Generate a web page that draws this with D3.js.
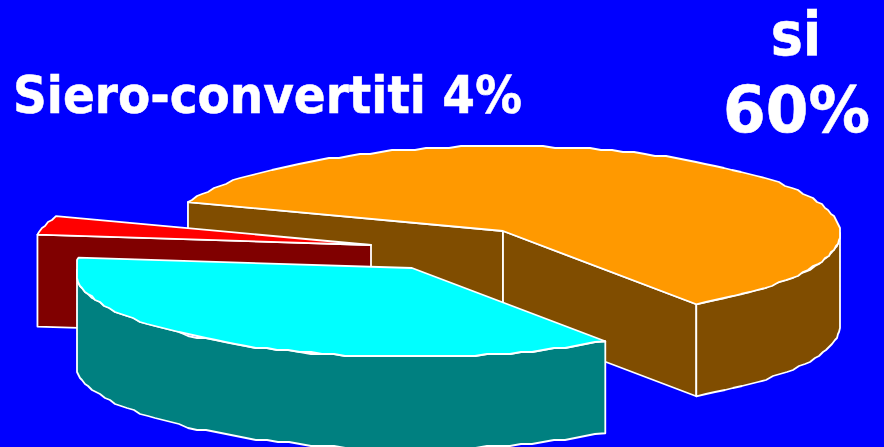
<!DOCTYPE html>
<html>
<head>
<meta charset="utf-8">
<script src="https://cdn.jsdelivr.net/npm/d3@7"></script>
<style>
  html, body { margin: 0; padding: 0; background: #0000ff; }
  svg { display: block; }
  text { font-family: "DejaVu Sans", sans-serif; font-weight: bold; font-stretch: condensed; fill: #fff; stroke: #fff; stroke-width: 0.5; }
</style>
</head>
<body>
<script>
const sliceNames = ["si", "no", "Siero-convertiti"];
const sliceValues = [59.5, 37, 3.5];
const topColors = ["#ff9900", "#00ffff", "#ff0000"];
const wallColors = ["#804d00", "#008080", "#800000"];
// where each slice's tip sits after being pulled out of the pie
const tipX = [503, 412, 371];
const tipY = [231, 268, 245];

const width = 884, height = 447;
const rx = 337, ry = 87, depth = 92;
const leftLimit = 335; // the original's rim is cut flat on the far left
const rimDrop = 2;     // rim ellipse sits a little lower than the tips

const svg = d3.select("body").append("svg")
    .attr("width", width)
    .attr("height", height);

// pie runs clockwise from the left cut of the orange slice
const startAngle = (-159.2 + 90) * Math.PI / 180;
const pie = d3.pie().sort(null)
    .startAngle(startAngle)
    .endAngle(startAngle + 2 * Math.PI);
const arcs = pie(sliceValues);

const line = d3.line();

// d3 pie angles are measured clockwise from 12 o'clock
const rimPoint = (i, a, dy = 0) => [
  tipX[i] + Math.max(-leftLimit, rx * Math.sin(a)),
  tipY[i] + rimDrop - ry * Math.cos(a) + dy
];

// coarse steps and snapping give the rough edge the original has
function rim(i, a0, a1, dy = 0) {
  const n = Math.max(2, Math.round(Math.abs(a1 - a0) / 0.035));
  return d3.range(n + 1).map(k => {
    const p = rimPoint(i, a0 + (a1 - a0) * k / n, dy);
    return k === 0 || k === n ? p : [Math.round(p[0]), Math.round(p[1] / 2) * 2];
  });
}

function drawFace(pts, fill) {
  svg.append("path")
      .attr("d", line(pts) + "Z")
      .attr("fill", fill)
      .attr("stroke", "#fff")
      .attr("stroke-width", 1.8)
      .attr("stroke-linejoin", "round");
}

function drawSlice(i) {
  const a = arcs[i];
  const tip = [tipX[i], tipY[i]];
  const tipLow = [tipX[i], tipY[i] + depth];
  const p0 = rimPoint(i, a.startAngle), p1 = rimPoint(i, a.endAngle);
  const p0Low = rimPoint(i, a.startAngle, depth), p1Low = rimPoint(i, a.endAngle, depth);

  // cut faces turned towards the viewer
  if (i === 0) {
    drawFace([p0, tip, tipLow, p0Low], wallColors[i]);
    drawFace([tip, p1, p1Low, tipLow], wallColors[i]);
  }
  if (i === 2) drawFace([p0, tip, tipLow, p0Low], wallColors[i]);

  // outer wall, only the part of the rim on the near side
  const from = Math.max(a.startAngle, Math.PI / 2);
  const to = Math.min(a.endAngle, 3 * Math.PI / 2);
  if (to > from) drawFace(rim(i, from, to).concat(rim(i, to, from, depth)), wallColors[i]);

  drawFace([tip].concat(rim(i, a.startAngle, a.endAngle)), topColors[i]);
}

[0, 2, 1].forEach(drawSlice);

svg.append("text").attr("x", 13).attr("y", 113)
    .attr("font-size", 52).attr("textLength", 509).attr("lengthAdjust", "spacingAndGlyphs")
    .text(sliceNames[2] + " 4%");
svg.append("text").attr("x", 796).attr("y", 55)
    .attr("font-size", 60).attr("text-anchor", "middle").text(sliceNames[0]);
svg.append("text").attr("x", 723).attr("y", 132)
    .attr("font-size", 64).attr("textLength", 147).attr("lengthAdjust", "spacingAndGlyphs")
    .text("60%");
</script>
</body>
</html>
